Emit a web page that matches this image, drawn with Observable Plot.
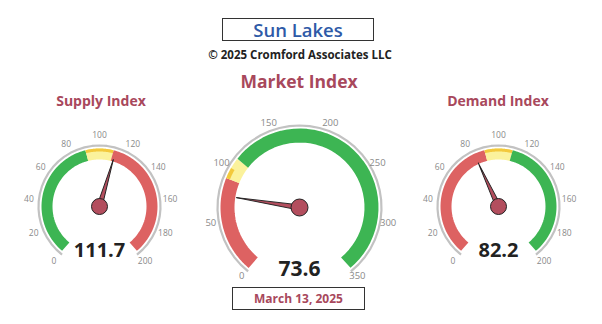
<!DOCTYPE html>
<html><head><meta charset="utf-8">
<script src="https://cdn.jsdelivr.net/npm/d3@7"></script>
<script src="https://cdn.jsdelivr.net/npm/@observablehq/plot@0.6"></script>
<style>
body{margin:0;background:#fff;font-family:"Open Sans",sans-serif;}
#page{position:relative;width:602px;height:324px;overflow:hidden;background:#fff;}
.abs{position:absolute;white-space:nowrap;text-align:center;}
#title{left:222px;top:18px;width:150px;height:21px;border:1.5px solid #333;color:#2e5aa7;font-size:18.5px;font-weight:600;line-height:21px;}
#copy{left:0;width:600px;top:47px;font-size:11.5px;font-weight:700;color:#222;}
.gt{color:#a8485c;font-weight:700;}
#market{left:0;width:598px;top:69px;font-size:17.5px;}
#supply{left:1px;width:200px;top:91px;font-size:14px;}
#demand{left:398px;width:200px;top:91px;font-size:14px;}
#date{left:232px;top:287px;width:131px;height:21px;border:1.5px solid #333;color:#a8485c;font-size:12px;font-weight:700;line-height:21px;}
#chart{position:absolute;left:0;top:110px;}
</style></head><body><div id="page">
<div id="title" class="abs">Sun Lakes</div>
<div id="copy" class="abs">© 2025 Cromford Associates LLC</div>
<div id="market" class="abs gt">Market Index</div>
<div id="supply" class="abs gt">Supply Index</div>
<div id="demand" class="abs gt">Demand Index</div>
<div id="date" class="abs">March 13, 2025</div>
<div id="chart"></div>
</div>
<script>
// ---- data ----
const gaugeNames = ["Supply Index", "Market Index", "Demand Index"];
const gaugeValues = [111.7, 73.6, 82.2];
const gaugeMax = [200, 350, 200];
const bandBreaks = [0, 90, 110];           // band start values (last band runs to max)
const bandKinds = [
  ["green", "yellow", "red"],   // supply
  ["red", "yellow", "green"],   // market
  ["red", "yellow", "green"]    // demand
];
const sideTicks = [0, 20, 40, 60, 80, 100, 120, 140, 160, 180, 200];
const centerTicks = [0, 50, 100, 150, 200, 250, 300, 350];
const valueLabels = ["111.7", "73.6", "82.2"];

// ---- layout / style (not data) ----
const layout = [
  {cx: 99,  cy: 206, rOut: 58, rIn: 47, ring: 61, label: 71, hub: 8,   needle: 49, font: 20, tickFont: 8.5},
  {cx: 299, cy: 207, rOut: 79, rIn: 65, ring: 82, label: 90, hub: 8.5, needle: 64, font: 21, tickFont: 9.5},
  {cx: 498, cy: 206, rOut: 58, rIn: 47, ring: 61, label: 71, hub: 8,   needle: 48, font: 20, tickFont: 8.5}
];
const colors = {green: "#3db553", yellow: "#fbf29c", red: "#dd6262", gold: "#f3c93c", ring: "#c2c2c2", needle: "#b34e5e"};
const SPAN = 280, START = -140, TOP = 110, H = 172;

const ang = (v, max) => START + v / max * SPAN;              // degrees clockwise from up
function arc(g, lo, hi, r, key, color) {
  const L = layout[g], n = 40;
  return d3.range(n + 1).map(i => {
    const v = lo + (hi - lo) * i / n, a = ang(v, gaugeMax[g]) * Math.PI / 180;
    return {x: L.cx + r * Math.sin(a), y: L.cy - r * Math.cos(a), key, color};
  });
}

const marks = [];
gaugeNames.forEach((name, g) => {
  const L = layout[g], max = gaugeMax[g];
  // outer grey ring
  marks.push(Plot.line(arc(g, -1.5, max + 1.5, L.ring, name + "ring", colors.ring),
    {x: "x", y: "y", z: "key", stroke: colors.ring, strokeWidth: 2.2, strokeLinecap: "butt"}));
  // colored bands
  const bands = [];
  bandBreaks.forEach((lo, i) => {
    const hi = i + 1 < bandBreaks.length ? bandBreaks[i + 1] : max;
    bands.push(...arc(g, lo, hi, (L.rOut + L.rIn) / 2, name + i, colors[bandKinds[g][i]]));
  });
  marks.push(Plot.line(bands, {x: "x", y: "y", z: "key", stroke: "color", strokeWidth: L.rOut - L.rIn, strokeLinecap: "butt"}));
  // gold highlight strip on the yellow band
  const yi = bandKinds[g].indexOf("yellow");
  const sw = g === 1 ? 4 : 3;
  marks.push(Plot.line(arc(g, bandBreaks[yi], g === 1 ? 100 : bandBreaks[yi + 1], L.rOut - sw / 2, name + "gold", colors.gold),
    {x: "x", y: "y", z: "key", stroke: colors.gold, strokeWidth: sw, strokeLinecap: "butt"}));
  // tick labels
  const ticks = g === 1 ? centerTicks : sideTicks;
  marks.push(Plot.text(ticks, {
    x: t => L.cx + L.label * Math.sin(ang(t, max) * Math.PI / 180),
    y: t => L.cy - L.label * Math.cos(ang(t, max) * Math.PI / 180),
    text: t => String(t), fill: "#8a8a8a", fontSize: L.tickFont, fontFamily: "Open Sans"
  }));
  // needle
  marks.push(Plot.vector([gaugeValues[g]], {
    x: () => L.cx, y: () => L.cy, length: L.needle, rotate: ang(gaugeValues[g], max),
    shape: "spike", r: 2.6, anchor: "start", fill: colors.needle, stroke: "#222", strokeWidth: 0.9
  }));
  marks.push(Plot.dot([gaugeValues[g]], {x: () => L.cx, y: () => L.cy, r: L.hub, fill: colors.needle, stroke: "#222", strokeWidth: 1}));
  // value label
  marks.push(Plot.text([valueLabels[g]], {
    x: () => L.cx, y: () => g === 1 ? L.cy + 62 : L.cy + 44, text: d => d,
    fontSize: L.font, fontWeight: "bold", fill: "#222", fontFamily: "Open Sans"
  }));
});

const chart = Plot.plot({
  width: 602, height: H,
  margin: 0,
  x: {domain: [0, 602], range: [0, 602], axis: null},
  y: {domain: [TOP, TOP + H], range: [0, H], axis: null},
  color: {type: "identity"},
  style: {background: "transparent", overflow: "visible"},
  marks
});
document.getElementById("chart").append(chart);
</script>
</body></html>
